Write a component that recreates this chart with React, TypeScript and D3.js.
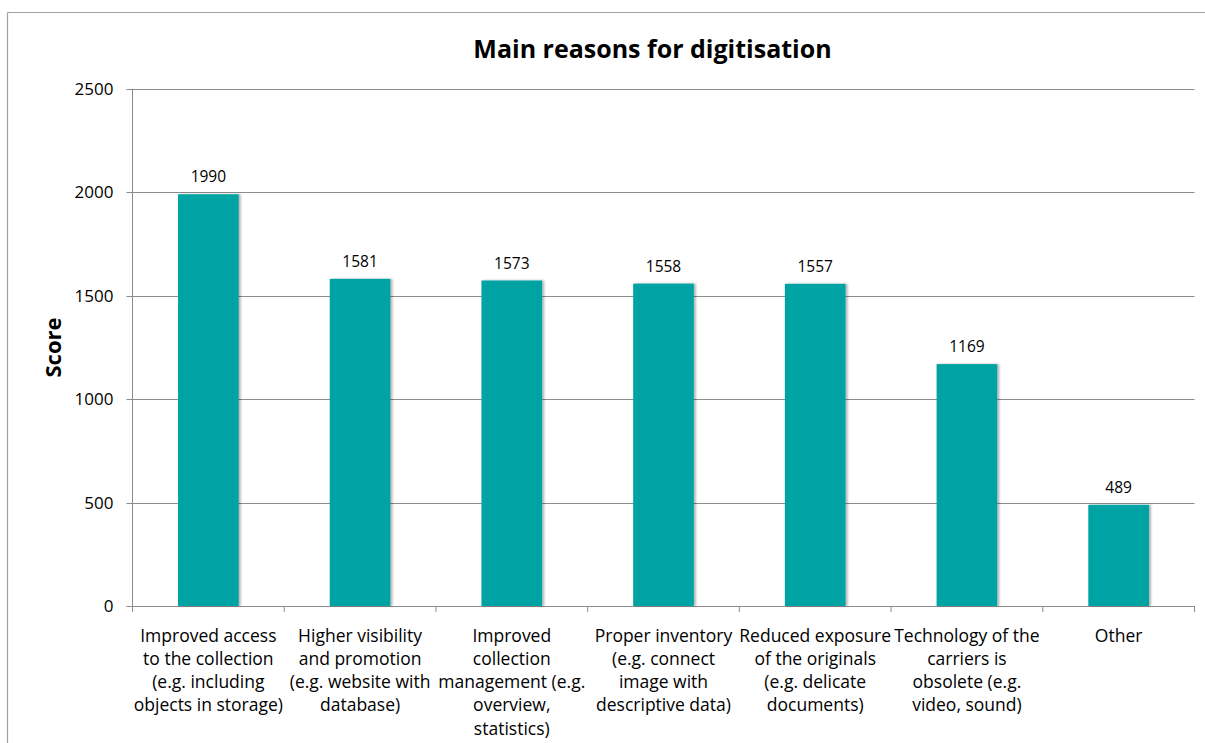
import React from "react";
import * as d3 from "d3";

const categories: string[][] = [
  ["Improved access", "to the collection", "(e.g. including", "objects in storage)"],
  ["Higher visibility", "and promotion", "(e.g. website with", "database)"],
  ["Improved", "collection", "management (e.g.", "overview,", "statistics)"],
  ["Proper inventory", "(e.g. connect", "image with", "descriptive data)"],
  ["Reduced exposure", "of the originals", "(e.g. delicate", "documents)"],
  ["Technology of the", "carriers is", "obsolete (e.g.", "video, sound)"],
  ["Other"],
];
const scores: number[] = [1990, 1581, 1573, 1558, 1557, 1169, 489];
const yTicks: number[] = [0, 500, 1000, 1500, 2000, 2500];
const title = "Main reasons for digitisation";
const yTitle = "Score";

const W = 1205;
const H = 743;
const FONT = "'Open Sans', Lato, sans-serif";
const BAR = "#00A3A3";
const GRID = "#8c8c8c";

export default function App() {
  const left = 132.5;
  const right = 1194.5;
  const top = 88.7;
  const bottom = 606;
  const idx = categories.map((_, i) => String(i));
  const x = d3.scaleBand<string>().domain(idx).range([left, right]).paddingInner(0.6).paddingOuter(0.3);
  const xb = d3.scaleBand<string>().domain(idx).range([left, right]);
  const y = d3.scaleLinear().domain([0, 2500]).range([bottom, top]);

  return (
    <svg
      width={W}
      height={H}
      style={{ position: "absolute", left: 0, top: 0, background: "#fff" }}
      fontFamily={FONT}
    >
      <defs>
        <filter id="sh" x="-20%" y="-5%" width="140%" height="110%">
          <feDropShadow dx="2" dy="0" stdDeviation="1.2" floodColor="#000" floodOpacity="0.3" />
        </filter>
      </defs>
      {/* outer border */}
      <line x1={7.5} x2={W} y1={12.5} y2={12.5} stroke="#a0a0a0" strokeWidth={1.2} />
      <line x1={7.5} x2={7.5} y1={12.5} y2={H} stroke="#a0a0a0" strokeWidth={1.2} />

      <text x={652.5} y={58} textAnchor="middle" fontSize={25} fontWeight="bold" fill="#000">
        {title}
      </text>

      {/* grid + y ticks */}
      {yTicks.map((t) => (
        <g key={t}>
          <line x1={left - 6} x2={right} y1={Math.round(y(t)) + 0.5} y2={Math.round(y(t)) + 0.5} stroke={GRID} strokeWidth={1} />
          <text x={113.5} y={y(t)} dy="0.36em" textAnchor="end" fontSize={17} fill="#000">
            {t}
          </text>
        </g>
      ))}
      {/* y axis */}
      <line x1={left} x2={left} y1={top} y2={bottom + 6} stroke={GRID} strokeWidth={1} />
      {/* x ticks */}
      {idx.map((d) => (
        <line key={d} x1={(xb(d) as number) + xb.bandwidth()} x2={(xb(d) as number) + xb.bandwidth()} y1={bottom} y2={bottom + 6} stroke={GRID} strokeWidth={1} />
      ))}

      <text
        transform={`translate(53,${347.5}) rotate(-90)`}
        textAnchor="middle"
        dy="0.36em"
        fontSize={22}
        fontWeight="bold"
        fill="#000"
      >
        {yTitle}
      </text>

      {/* bars */}
      {scores.map((v, i) => (
        <g key={i}>
          <rect
            x={x(String(i))}
            y={y(v)}
            width={x.bandwidth()}
            height={bottom - y(v)}
            fill={BAR}
            filter="url(#sh)"
          />
          <text
            x={(x(String(i)) as number) + x.bandwidth() / 2}
            y={y(v) - 12}
            textAnchor="middle"
            fontSize={15.5}
            fill="#000"
          >
            {v}
          </text>
        </g>
      ))}

      {/* category labels */}
      {categories.map((lines, i) => (
        <text key={i} textAnchor="middle" fontSize={17.5} fill="#000">
          {lines.map((l, j) => (
            <tspan key={j} x={(xb(String(i)) as number) + xb.bandwidth() / 2} y={641.5 + j * 23.3}>
              {l}
            </tspan>
          ))}
        </text>
      ))}
    </svg>
  );
}
